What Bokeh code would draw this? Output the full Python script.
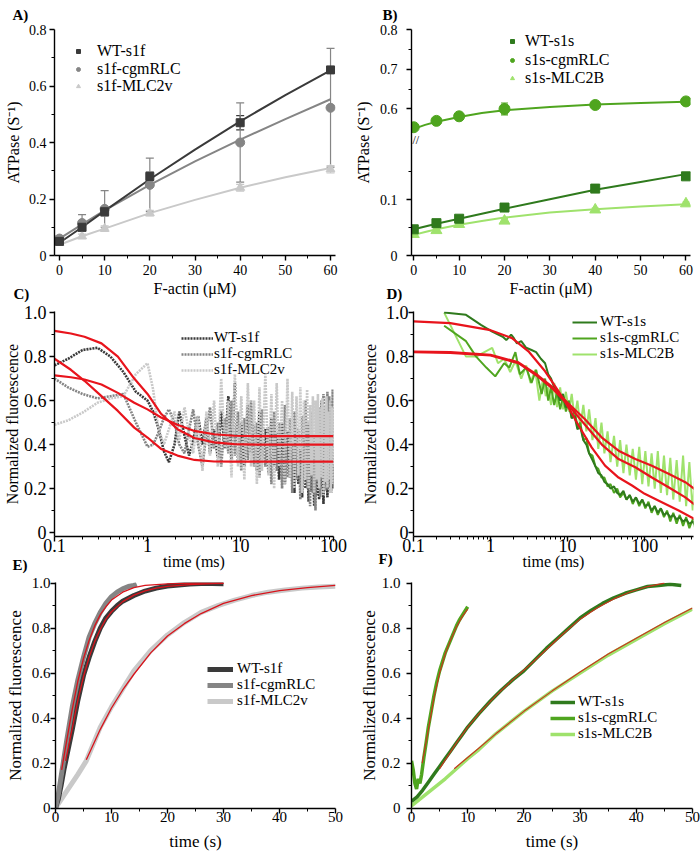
import numpy as np
from bokeh.plotting import figure
from bokeh.models import (ColumnDataSource, Whisker, TeeHead, Legend, LegendItem, Label,
                          FixedTicker, Range1d)
from bokeh.layouts import column, row
from bokeh.embed import file_html
from bokeh.resources import INLINE

FONT = "Liberation Serif"

# ---------------- Panel A data ----------------
A_X = [0, 5, 10, 20, 40, 60]
A_WT = [0.05, 0.10, 0.155, 0.28, 0.47, 0.657]
A_WT_ERR = [0.01, 0.015, 0.015, 0.015, 0.025, 0.01]
A_CGM = [0.06, 0.115, 0.165, 0.25, 0.40, 0.523]
A_CGM_ERR = [0.01, 0.03, 0.065, 0.095, 0.14, 0.21]
A_MLC = [0.045, 0.068, 0.095, 0.15, 0.24, 0.305]
A_MLC_ERR = [0.005, 0.008, 0.01, 0.01, 0.012, 0.013]
A_FIT_X = [0, 5, 10, 20, 30, 40, 50, 60]
A_FIT_WT = [0.045, 0.10, 0.158, 0.27, 0.375, 0.475, 0.568, 0.655]
A_FIT_CGM = [0.06, 0.11, 0.16, 0.25, 0.333, 0.41, 0.483, 0.553]
A_FIT_MLC = [0.038, 0.068, 0.095, 0.15, 0.197, 0.24, 0.277, 0.31]

# ---------------- Panel B data ----------------
B_X = [0, 5, 10, 20, 40, 60]
B_WT = [0.047, 0.058, 0.066, 0.086, 0.12, 0.142]
B_WT_ERR = [0.002, 0.002, 0.002, 0.003, 0.003, 0.003]
B_CGM = [0.554, 0.570, 0.5815, 0.60, 0.610, 0.619]
B_CGM_ERR = [0.003, 0.003, 0.003, 0.015, 0.004, 0.003]
B_MLC = [0.038, 0.045, 0.056, 0.062, 0.082, 0.093]
B_MLC_ERR = [0.003, 0.003, 0.003, 0.004, 0.003, 0.003]
B_FIT_X = [0, 2.5, 5, 10, 15, 20, 30, 40, 50, 60]
B_FIT_WT = [0.047, 0.052, 0.057, 0.066, 0.075, 0.084, 0.101, 0.118, 0.132, 0.146]
B_FIT_CGM = [0.550, 0.560, 0.568, 0.580, 0.590, 0.597, 0.605, 0.611, 0.615, 0.618]
B_FIT_MLC = [0.037, 0.042, 0.047, 0.055, 0.062, 0.068, 0.077, 0.083, 0.088, 0.092]
BRK_LO, BRK_HI, BRK_K = 0.208, 0.523, 0.7127   # broken y axis of panel B

# ---------------- Panel C data ----------------
C_T = [0.1, 0.14, 0.2, 0.29, 0.4, 0.55, 0.75, 1.0,
       1.15, 1.3, 1.5, 1.7, 1.95, 2.2, 2.5, 2.8,
       3.1, 3.5, 3.9, 4.3, 4.7, 5.2, 5.7, 6.2, 6.8, 7.4, 8.0, 8.7, 9.4,
       10.2, 11, 12, 13, 14, 15, 16, 17, 18.5, 20,
       21.5, 23, 24.5, 26, 28,
       30, 32, 34, 36, 38, 40, 42, 44, 46, 48, 50, 52, 54, 56, 58, 60, 62, 64,
       66, 68, 70, 72, 74, 76, 78, 80, 82, 84, 86, 88, 90, 92, 94, 96, 98, 100]
C_WT = [0.76, 0.79, 0.83, 0.84, 0.80, 0.73, 0.64, 0.60,
        0.55, 0.48, 0.37, 0.32, 0.40, 0.55, 0.44, 0.35,
        0.42, 0.53, 0.40, 0.52, 0.36, 0.47, 0.34, 0.55, 0.38, 0.62, 0.33, 0.68, 0.32,
        0.50, 0.30, 0.58, 0.36, 0.49, 0.28, 0.55, 0.33, 0.47, 0.27,
        0.52, 0.30, 0.45, 0.24, 0.50,
        0.22, 0.46, 0.25, 0.40, 0.18, 0.44, 0.22, 0.38, 0.16, 0.42, 0.20, 0.36, 0.14, 0.40,
        0.19, 0.33, 0.12, 0.38, 0.17, 0.30, 0.15, 0.41, 0.20, 0.34, 0.13, 0.37, 0.22, 0.31,
        0.16, 0.39, 0.21, 0.29, 0.18, 0.36, 0.20, 0.30]
C_CGM = [0.70, 0.66, 0.63, 0.61, 0.62, 0.63, 0.50, 0.39,
         0.40, 0.45, 0.52, 0.56, 0.50, 0.40, 0.36, 0.47,
         0.56, 0.40, 0.30, 0.45, 0.57, 0.38, 0.50, 0.30, 0.52, 0.36, 0.60, 0.35, 0.55,
         0.28, 0.52, 0.33, 0.60, 0.30, 0.50, 0.25, 0.56, 0.30, 0.48,
         0.22, 0.55, 0.28, 0.50, 0.20,
         0.58, 0.25, 0.52, 0.18, 0.55, 0.24, 0.47, 0.15, 0.53, 0.22, 0.60, 0.20, 0.50, 0.12,
         0.55, 0.18, 0.45, 0.10, 0.52, 0.22, 0.57, 0.16, 0.60, 0.24, 0.63, 0.19, 0.58, 0.26,
         0.64, 0.21, 0.62, 0.25, 0.60, 0.22, 0.65, 0.28]
C_MLC = [0.49, 0.51, 0.545, 0.59, 0.61, 0.62, 0.72, 0.77,
         0.65, 0.48, 0.40, 0.47, 0.55, 0.42, 0.57, 0.45,
         0.36, 0.53, 0.28, 0.55, 0.35, 0.60, 0.30, 0.70, 0.38, 0.60, 0.25, 0.72, 0.30,
         0.62, 0.24, 0.68, 0.30, 0.60, 0.22, 0.66, 0.28, 0.72, 0.26,
         0.63, 0.20, 0.68, 0.30, 0.60,
         0.22, 0.70, 0.25, 0.64, 0.20, 0.62, 0.26, 0.66, 0.18, 0.60, 0.24, 0.65, 0.20, 0.58,
         0.26, 0.62, 0.18, 0.60, 0.24, 0.63, 0.20, 0.57, 0.25, 0.61, 0.17, 0.58, 0.23, 0.62,
         0.20, 0.55, 0.24, 0.60, 0.18, 0.57, 0.22, 0.55]
C_FIT_T = [0.1, 0.15, 0.21, 0.32, 0.48, 0.72, 1.0, 1.4, 2.1, 3.2, 5.2, 8.5, 15, 30, 100]
C_FIT1 = [0.917, 0.905, 0.89, 0.86, 0.80, 0.70, 0.63, 0.54, 0.47, 0.43, 0.41, 0.402, 0.40, 0.40, 0.40]
C_FIT2 = [0.79, 0.74, 0.69, 0.62, 0.553, 0.477, 0.432, 0.38, 0.35, 0.33, 0.323, 0.322, 0.322, 0.322, 0.322]
C_FIT3 = [0.715, 0.706, 0.696, 0.673, 0.635, 0.59, 0.56, 0.523, 0.49, 0.462, 0.447, 0.44, 0.438, 0.438, 0.438]

# ---------------- Panel D data ----------------
D_WT_T0 = [0.25, 0.48, 0.75, 1.05, 1.44, 1.6, 1.85, 2.0, 2.2, 2.5, 2.9, 3.4, 3.9, 4.5, 5.1]
D_WT_V0 = [1.0, 0.99, 0.944, 0.914, 0.89, 0.875, 0.90, 0.885, 0.86, 0.87, 0.84, 0.83, 0.82, 0.79, 0.77]
D_CGM_T0 = [0.25, 0.48, 0.65, 0.88, 1.15, 1.5, 1.75, 2.1, 2.4, 2.9, 3.4, 3.9, 4.6, 5.1]
D_CGM_V0 = [0.94, 0.87, 0.80, 0.75, 0.71, 0.77, 0.75, 0.82, 0.72, 0.75, 0.68, 0.74, 0.63, 0.70]
D_MLC_T0 = [0.25, 0.48, 0.65, 1.05, 1.25, 1.5, 1.8, 2.1, 2.5, 2.9, 3.3, 3.8, 4.3, 4.8, 5.2]
D_MLC_V0 = [1.0, 0.80, 0.80, 0.84, 0.77, 0.79, 0.73, 0.78, 0.70, 0.76, 0.68, 0.74, 0.60, 0.70, 0.62]
D_T_LATE = [5.6, 6.1, 6.7, 7.3, 8, 8.7, 9.5, 10.4, 11.3, 12.3,
            13.4, 14.6, 16, 17.5, 19, 21, 23, 25, 27.5, 30,
            33, 36, 40, 44, 48, 53, 58, 64, 70, 77,
            85, 93, 102, 112, 123, 135, 148, 162, 178, 195,
            215, 235, 260, 285, 315, 345, 380, 420, 460]
D_WT_LATE = [0.72, 0.70, 0.66, 0.64, 0.60, 0.63, 0.57, 0.58, 0.52, 0.53,
             0.47, 0.48, 0.42, 0.40, 0.36, 0.33, 0.30, 0.27, 0.26, 0.23,
             0.22, 0.20, 0.21, 0.18, 0.17, 0.19, 0.15, 0.17, 0.14, 0.16,
             0.13, 0.15, 0.12, 0.13, 0.10, 0.12, 0.09, 0.11, 0.08, 0.09,
             0.07, 0.08, 0.06, 0.07, 0.05, 0.06, 0.04, 0.05, 0.03]
D_CGM_LATE = [0.60, 0.66, 0.58, 0.64, 0.56, 0.62, 0.55, 0.60, 0.52, 0.56,
              0.48, 0.50, 0.42, 0.43, 0.36, 0.35, 0.30, 0.29, 0.25, 0.25,
              0.21, 0.22, 0.18, 0.20, 0.16, 0.18, 0.15, 0.17, 0.13, 0.16,
              0.12, 0.15, 0.11, 0.14, 0.09, 0.12, 0.08, 0.11, 0.07, 0.10,
              0.05, 0.09, 0.04, 0.08, 0.03, 0.07, 0.02, 0.06, 0.01]
D_MLC_LATE = [0.66, 0.58, 0.68, 0.57, 0.66, 0.56, 0.64, 0.55, 0.63, 0.52,
              0.60, 0.48, 0.58, 0.46, 0.56, 0.42, 0.52, 0.38, 0.50, 0.36,
              0.46, 0.32, 0.44, 0.30, 0.42, 0.27, 0.40, 0.26, 0.38, 0.24,
              0.39, 0.22, 0.37, 0.21, 0.36, 0.20, 0.37, 0.18, 0.35, 0.17,
              0.34, 0.15, 0.33, 0.14, 0.35, 0.12, 0.32, 0.10, 0.30]
D_FIT1_T = [0.1, 0.3, 1, 1.9, 3.1, 5.1, 7.6, 10, 13.7, 20.5, 30.6, 45.8, 68.5, 100, 167, 276, 460]
D_FIT1 = [0.96, 0.952, 0.92, 0.884, 0.824, 0.733, 0.643, 0.575, 0.49, 0.387, 0.304, 0.25, 0.214, 0.176, 0.138, 0.10, 0.059]
D_FIT23_T = [0.1, 0.3, 1, 2.3, 4.1, 6.2, 10, 16.8, 27.8, 45.8, 75.6, 124, 204, 337, 460]
D_FIT2 = [0.82, 0.817, 0.805, 0.77, 0.71, 0.658, 0.583, 0.49, 0.40, 0.334, 0.297, 0.25, 0.206, 0.16, 0.123]
D_FIT3 = [0.823, 0.82, 0.808, 0.774, 0.715, 0.665, 0.59, 0.515, 0.432, 0.372, 0.334, 0.304, 0.267, 0.229, 0.194]

# ---------------- Panel E data ----------------
E_WT_T = [0, 0.5, 1, 1.5, 2, 3, 4, 5, 6, 7, 8, 9, 10, 11, 12, 14, 16, 18, 20, 22, 24, 26, 28, 30]
E_WT_V = [0.0, 0.04, 0.10, 0.17, 0.23, 0.35, 0.48, 0.59, 0.67, 0.74, 0.80, 0.845, 0.875, 0.90,
          0.92, 0.945, 0.965, 0.978, 0.987, 0.992, 0.996, 0.998, 0.998, 0.997]
E_CGM_T = [0, 0.5, 1, 1.5, 2, 3, 4, 5, 6, 7, 8, 9, 10, 11, 12, 13, 14, 14.5]
E_CGM_V = [0.0, 0.06, 0.14, 0.22, 0.30, 0.45, 0.57, 0.67, 0.76, 0.82, 0.87, 0.91, 0.94, 0.96,
           0.975, 0.985, 0.99, 0.995]
E_MLC_T = [0, 2, 4, 5.5, 8, 10, 11, 14, 17, 20, 23, 26, 29, 32, 35, 38, 41, 44, 47, 50]
E_MLC_V = [0.0, 0.075, 0.15, 0.21, 0.36, 0.45, 0.49, 0.61, 0.70, 0.77, 0.825, 0.87, 0.90, 0.925,
           0.945, 0.96, 0.97, 0.978, 0.983, 0.986]
E_FIT_CGM_T = [1.1, 2, 3, 4, 5, 6, 7, 8, 9, 10, 12, 14, 16, 20, 25, 30]
E_FIT_CGM_V = [0.17, 0.30, 0.44, 0.565, 0.665, 0.745, 0.81, 0.86, 0.895, 0.925, 0.96, 0.98, 0.99,
               0.997, 1.0, 1.0]
E_FIT_WT_T = [1.8, 3, 4, 5, 6, 7, 8, 9, 10, 12, 14, 16, 18, 20, 24, 28, 30]
E_FIT_WT_V = [0.21, 0.355, 0.48, 0.585, 0.67, 0.74, 0.795, 0.84, 0.873, 0.918, 0.947, 0.966, 0.978,
              0.986, 0.994, 0.998, 0.999]
E_FIT_MLC_T = [5.5, 8, 10, 12, 14, 17, 20, 23, 26, 30, 35, 40, 45, 50]
E_FIT_MLC_V = [0.215, 0.35, 0.445, 0.525, 0.595, 0.69, 0.765, 0.82, 0.865, 0.91, 0.945, 0.967, 0.98, 0.99]

# ---------------- Panel F data ----------------
F_CGM_T = [0, 0.3, 0.6, 0.9, 1.2, 1.5, 1.8, 2.2, 2.6, 3, 3.5, 4, 4.5, 5, 5.5, 6, 6.5, 7, 7.5, 8,
           8.5, 9, 9.5, 10]
F_CGM_V = [0.21, 0.17, 0.11, 0.085, 0.13, 0.11, 0.15, 0.225, 0.29, 0.36, 0.43, 0.50, 0.56, 0.61,
           0.65, 0.69, 0.72, 0.75, 0.78, 0.81, 0.835, 0.855, 0.875, 0.895]
F_FIT_CGM_T = [1.9, 2.5, 3, 4, 5, 6, 7, 8, 9, 10]
F_FIT_CGM_V = [0.20, 0.28, 0.35, 0.49, 0.60, 0.685, 0.75, 0.805, 0.85, 0.885]
F_WT_T = [0, 1, 2, 3, 4, 5, 6, 7, 8, 9, 10, 12, 14, 16, 18, 20, 22, 24, 26, 28, 30, 32, 34, 36, 38,
          40, 42, 44, 46, 48]
F_WT_V = [0.03, 0.05, 0.08, 0.115, 0.15, 0.185, 0.22, 0.255, 0.29, 0.325, 0.36, 0.42, 0.475, 0.525,
          0.57, 0.61, 0.66, 0.71, 0.755, 0.80, 0.845, 0.88, 0.91, 0.935, 0.955, 0.97, 0.985, 0.99,
          0.995, 0.99]
F_FIT_WT_T = [5, 8, 10, 12, 15, 18, 21, 24, 27, 30, 33, 36, 39, 42, 45]
F_FIT_WT_V = [0.175, 0.29, 0.36, 0.42, 0.50, 0.57, 0.635, 0.705, 0.775, 0.84, 0.89, 0.93, 0.962, 0.985, 1.0]
F_MLC_T = [0, 2, 4, 6, 8, 10, 12, 15, 17, 20, 25, 30, 35, 40, 45, 50]
F_MLC_V = [0.01, 0.05, 0.09, 0.13, 0.175, 0.22, 0.26, 0.33, 0.37, 0.43, 0.52, 0.60, 0.68, 0.75, 0.82, 0.885]
F_FIT_MLC_T = [7.6, 10, 15, 20, 25, 30, 35, 40, 45, 50]
F_FIT_MLC_V = [0.175, 0.225, 0.33, 0.43, 0.52, 0.605, 0.685, 0.755, 0.825, 0.89]

# ---------------- tick labels ----------------
LIN_X60 = [0, 10, 20, 30, 40, 50, 60]
LIN_X50 = [0, 10, 20, 30, 40, 50]
Y08 = [0, 0.2, 0.4, 0.6, 0.8]
Y10 = [0, 0.2, 0.4, 0.6, 0.8, 1.0]
B_YT = [0, 0.1, 0.6, 0.7, 0.8]
LOG_T = [0.1, 1, 10, 100]

# colors
GRAYS = ["#3a3a3a", "#858585", "#c9c9c9"]
GREENS = ["#2f7a1d", "#4fa51f", "#9fe26c"]
RED = "#e8141c"


def brk(v):
    v = np.asarray(v, dtype=float)
    return np.where(v <= BRK_LO, v, BRK_LO + (v - BRK_HI) * BRK_K)


def make_fig(width, height, bl, br, bt, bb, xr, yr, xtype="linear"):
    p = figure(width=width, height=height, x_range=xr, y_range=yr, x_axis_type=xtype,
               output_backend="svg", toolbar_location=None,
               min_border_left=bl, min_border_right=br, min_border_top=bt, min_border_bottom=bb)
    p.outline_line_color = None
    p.border_fill_alpha = 0
    p.xgrid.visible = False
    p.ygrid.visible = False
    return p


def style(p, xt, xm, xl, yt, ym, yl, tick_fs, lab_fs, xlabel, ylabel,
          x_lso, x_so, y_lso, y_so):
    xa, ya = p.xaxis[0], p.yaxis[0]
    xa.ticker = FixedTicker(ticks=[float(t) for t in xt], minor_ticks=[float(t) for t in xm])
    ya.ticker = FixedTicker(ticks=[float(t) for t in yt], minor_ticks=[float(t) for t in ym])
    xa.major_label_overrides = {float(t): s for t, s in zip(xt, xl)}
    ya.major_label_overrides = {float(t): s for t, s in zip(yt, yl)}
    for ax in (xa, ya):
        ax.axis_line_color = "black"
        ax.axis_line_width = 1.4
        ax.major_tick_line_color = "black"
        ax.major_tick_line_width = 1.4
        ax.minor_tick_line_color = "black"
        ax.minor_tick_line_width = 1.0
        ax.major_tick_out = 5
        ax.major_tick_in = 0
        ax.minor_tick_out = 3
        ax.minor_tick_in = 0
        ax.major_label_text_font = FONT
        ax.major_label_text_font_size = f"{tick_fs}px"
        ax.major_label_text_color = "black"
        ax.axis_label_text_font = FONT
        ax.axis_label_text_font_size = f"{lab_fs}px"
        ax.axis_label_text_font_style = "normal"
        ax.axis_label_text_color = "black"
    xa.axis_label = xlabel
    ya.axis_label = ylabel
    xa.major_label_standoff = x_lso
    xa.axis_label_standoff = x_so
    ya.major_label_standoff = y_lso
    ya.axis_label_standoff = y_so


def letter(p, text, offset, standoff):
    t = p.title
    t.text = text
    t.align = "left"
    t.offset = offset
    t.vertical_align = "top"
    t.standoff = standoff
    t.text_font = FONT
    t.text_font_size = "15px"
    t.text_font_style = "bold"
    t.text_color = "black"


def add_legend(p, items, frame_bottom, vx, row_centers, fs, gw, so):
    # one legend box per entry, so that the row pitch follows the reference
    for (lab, rend), cy in zip(items, row_centers):
        lg = Legend(items=[LegendItem(label=lab, renderers=[rend])],
                    location=(vx, frame_bottom - cy - 8),
                    orientation="vertical", padding=0, margin=0, spacing=0,
                    border_line_color=None, background_fill_alpha=0,
                    label_text_font=FONT, label_text_font_size=f"{fs}px", label_text_color="black",
                    label_height=16, glyph_height=16, glyph_width=gw, label_standoff=so)
        p.add_layout(lg)


def fmt1(vals):
    return ["0" if v == 0 else f"{v:.1f}" for v in vals]


def minors(lo, hi, step):
    out, v = [], lo
    while v <= hi + 1e-9:
        out.append(round(v, 4))
        v += step
    return out


# ================= Panel A =================  (canvas 0..350 x 0..300)
pA = make_fig(350, 300, 54, 15, 29, 45, Range1d(-1.1, 61.1), Range1d(0, 0.8))
style(pA, LIN_X60, minors(5, 55, 10), [str(v) for v in LIN_X60], Y08, minors(0.1, 0.7, 0.2), fmt1(Y08),
      14, 16, "F-actin (\u03bcM)", "ATPase (S\u207b\u00b9)", 4, 2, 3, 4)
for ys, err, col in [(A_WT, A_WT_ERR, GRAYS[0]), (A_CGM, A_CGM_ERR, GRAYS[1]), (A_MLC, A_MLC_ERR, GRAYS[2])]:
    src = ColumnDataSource(dict(x=A_X, lo=np.array(ys) - np.array(err), hi=np.array(ys) + np.array(err)))
    pA.add_layout(Whisker(source=src, base="x", upper="hi", lower="lo", line_color=col, line_width=1.2,
                          upper_head=TeeHead(size=8, line_color=col, line_width=1.2),
                          lower_head=TeeHead(size=8, line_color=col, line_width=1.2)))
pA.line(A_FIT_X, A_FIT_MLC, line_color=GRAYS[2], line_width=2)
pA.line(A_FIT_X, A_FIT_CGM, line_color=GRAYS[1], line_width=2)
pA.line(A_FIT_X, A_FIT_WT, line_color=GRAYS[0], line_width=2)
rA3 = pA.scatter(A_X, A_MLC, marker="triangle", size=9, color=GRAYS[2])
rA2 = pA.scatter(A_X, A_CGM, marker="circle", size=9, color=GRAYS[1])
rA1 = pA.scatter(A_X, A_WT, marker="square", size=8, color=GRAYS[0])
add_legend(pA, [("WT-s1f", rA1), ("s1f-cgmRLC", rA2), ("s1f-MLC2v", rA3)], 255, 19, [52, 70, 87], 16, 10, 14)
letter(pA, "A)", -42, 10)

# ================= Panel B =================  (canvas 350..700 x 0..300)
yb_top = float(brk(0.8))
pB = make_fig(350, 300, 61, 10, 29, 45, Range1d(-0.5, 61), Range1d(0, yb_top))
b_ticks = [float(v) for v in brk(B_YT)]
b_minor = [float(v) for v in brk([0.05, 0.15, 0.65, 0.75])]
style(pB, LIN_X60, minors(5, 55, 10), [str(v) for v in LIN_X60], b_ticks, b_minor, fmt1(B_YT),
      14, 16, "F-actin (\u03bcM)", "ATPase (S\u207b\u00b9)", 4, 2, 9, 5)
for ys, err, col in [(B_WT, B_WT_ERR, GREENS[0]), (B_CGM, B_CGM_ERR, GREENS[1]), (B_MLC, B_MLC_ERR, GREENS[2])]:
    src = ColumnDataSource(dict(x=B_X, lo=brk(np.array(ys) - np.array(err)), hi=brk(np.array(ys) + np.array(err))))
    pB.add_layout(Whisker(source=src, base="x", upper="hi", lower="lo", line_color=col, line_width=1.2,
                          upper_head=TeeHead(size=7, line_color=col, line_width=1.2),
                          lower_head=TeeHead(size=7, line_color=col, line_width=1.2)))
pB.line(B_FIT_X, brk(B_FIT_MLC), line_color=GREENS[2], line_width=2)
pB.line(B_FIT_X, brk(B_FIT_WT), line_color=GREENS[0], line_width=2)
pB.line(B_FIT_X, brk(B_FIT_CGM), line_color=GREENS[1], line_width=2)
rB3 = pB.scatter(B_X, brk(B_MLC), marker="triangle", size=11, color=GREENS[2])
rB1 = pB.scatter(B_X, brk(B_WT), marker="square", size=9, color=GREENS[0])
rB2 = pB.scatter(B_X, brk(B_CGM), marker="circle", size=11, color=GREENS[1])
add_legend(pB, [("WT-s1s", rB1), ("s1s-cgmRLC", rB2), ("s1s-MLC2B", rB3)], 255, 96, [42, 61, 79], 16, 10, 8)
pB.add_layout(Label(x=1, y=BRK_LO, x_units="screen", y_units="data", text="//",
                    text_font=FONT, text_font_size="12px", text_align="left",
                    text_baseline="middle", text_color="black"))
letter(pB, "B)", -29, 10)

# ================= Panel C =================  (canvas 0..350 x 270..574)
pC = make_fig(350, 304, 53, 17, 41, 38, Range1d(0.1, 100), Range1d(-0.018, 1.005), xtype="log")
log_minor = [m * d for d in (0.1, 1, 10) for m in range(2, 10)]
style(pC, LOG_T, log_minor, ["0.1", "1", "10", "100"], Y10, minors(0.1, 0.9, 0.2), fmt1(Y10),
      18, 16, "time (ms)", "Normalized fluorescence", -3, -2, 3, 0)
rC1 = pC.line(C_T, C_WT, line_color=GRAYS[0], line_width=2.6, line_dash="2 1")
rC2 = pC.line(C_T, C_CGM, line_color=GRAYS[1], line_width=2.6, line_dash="2 1")
rC3 = pC.line(C_T, C_MLC, line_color=GRAYS[2], line_width=2.6, line_dash="2 1")
for fv in (C_FIT1, C_FIT2, C_FIT3):
    pC.line(C_FIT_T, fv, line_color=RED, line_width=2.2)
add_legend(pC, [("WT-s1f", rC1), ("s1f-cgmRLC", rC2), ("s1f-MLC2v", rC3)], 536, 127, [338, 354, 370], 15, 32, 1)
letter(pC, "C)", -41, 16)

# ================= Panel D =================  (canvas 350..700 x 270..574)
pD = make_fig(350, 304, 63, 7, 41, 38, Range1d(0.1, 430), Range1d(-0.018, 1.005), xtype="log")
log_minor_d = [m * d for d in (0.1, 1, 10, 100) for m in range(2, 10) if m * d < 430]
style(pD, LOG_T, log_minor_d, ["0.1", "1", "10", "100"], Y10, minors(0.1, 0.9, 0.2), fmt1(Y10),
      18, 16, "time (ms)", "Normalized fluorescence", -3, -2, 0, 4)
rD3 = pD.line(D_MLC_T0 + D_T_LATE, D_MLC_V0 + D_MLC_LATE, line_color=GREENS[2], line_width=2)
rD2 = pD.line(D_CGM_T0 + D_T_LATE, D_CGM_V0 + D_CGM_LATE, line_color=GREENS[1], line_width=2)
rD1 = pD.line(D_WT_T0 + D_T_LATE, D_WT_V0 + D_WT_LATE, line_color=GREENS[0], line_width=2)
pD.line(D_FIT1_T, D_FIT1, line_color=RED, line_width=2.2)
pD.line(D_FIT23_T, D_FIT2, line_color=RED, line_width=2.2)
pD.line(D_FIT23_T, D_FIT3, line_color=RED, line_width=2.2)
add_legend(pD, [("WT-s1s", rD1), ("s1s-cgmRLC", rD2), ("s1s-MLC2B", rD3)], 536, 159, [322, 338, 354], 15, 25, 3)
letter(pD, "D)", -27, 16)

# ================= Panel E =================  (canvas 0..350 x 534..854)
pE = make_fig(350, 320, 55, 15, 48, 46, Range1d(0, 50), Range1d(-0.002, 1.003))
style(pE, LIN_X50, minors(5, 45, 10), [str(v) for v in LIN_X50], Y10, minors(0.1, 0.9, 0.2), fmt1(Y10),
      15, 17, "time (s)", "Normalized fluorescence", -2, 7, 0, 4)
rE3 = pE.line(E_MLC_T, E_MLC_V, line_color=GRAYS[2], line_width=5)
rE1 = pE.line(E_WT_T, E_WT_V, line_color=GRAYS[0], line_width=5)
rE2 = pE.line(E_CGM_T, E_CGM_V, line_color=GRAYS[1], line_width=5)
pE.line(E_FIT_CGM_T, E_FIT_CGM_V, line_color="#d8131b", line_width=1.3)
pE.line(E_FIT_WT_T, E_FIT_WT_V, line_color="#d8131b", line_width=1.3)
pE.line(E_FIT_MLC_T, E_FIT_MLC_V, line_color="#d8131b", line_width=1.3)
add_legend(pE, [("WT-s1f", rE1), ("s1f-cgmRLC", rE2), ("s1f-MLC2v", rE3)], 808, 152, [669, 685, 701], 15, 26, 4)
letter(pE, "E)", -43, 16)

# ================= Panel F =================  (canvas 350..700 x 534..854)
pF = make_fig(350, 320, 61, 8, 48, 46, Range1d(0, 50), Range1d(-0.002, 1.003))
style(pF, LIN_X50, minors(5, 45, 10), [str(v) for v in LIN_X50], Y10, minors(0.1, 0.9, 0.2), fmt1(Y10),
      15, 17, "time (s)", "Normalized fluorescence", -2, 7, 6, 0)
rF3 = pF.line(F_MLC_T, F_MLC_V, line_color=GREENS[2], line_width=3.5)
rF1 = pF.line(F_WT_T, F_WT_V, line_color=GREENS[0], line_width=3.5)
rF2 = pF.line(F_CGM_T, F_CGM_V, line_color=GREENS[1], line_width=3.5)
for tt, vv in [(F_FIT_CGM_T, F_FIT_CGM_V), (F_FIT_WT_T, F_FIT_WT_V), (F_FIT_MLC_T, F_FIT_MLC_V)]:
    pF.line(tt, vv, line_color="#c8361e", line_width=1.2)
add_legend(pF, [("WT-s1s", rF1), ("s1s-cgmRLC", rF2), ("s1s-MLC2B", rF3)], 808, 139, [702, 718, 734], 15, 25, 3)
letter(pF, "F)", -33, 28)

# rows 2 and 3 overlap the row above by their (transparent) top borders
layout = column(row(pA, pB),
                row(pC, pD, margin=(-30, 0, 0, 0)),
                row(pE, pF, margin=(-40, 0, 0, 0)))
open("out.html", "w").write(file_html(layout, INLINE))
